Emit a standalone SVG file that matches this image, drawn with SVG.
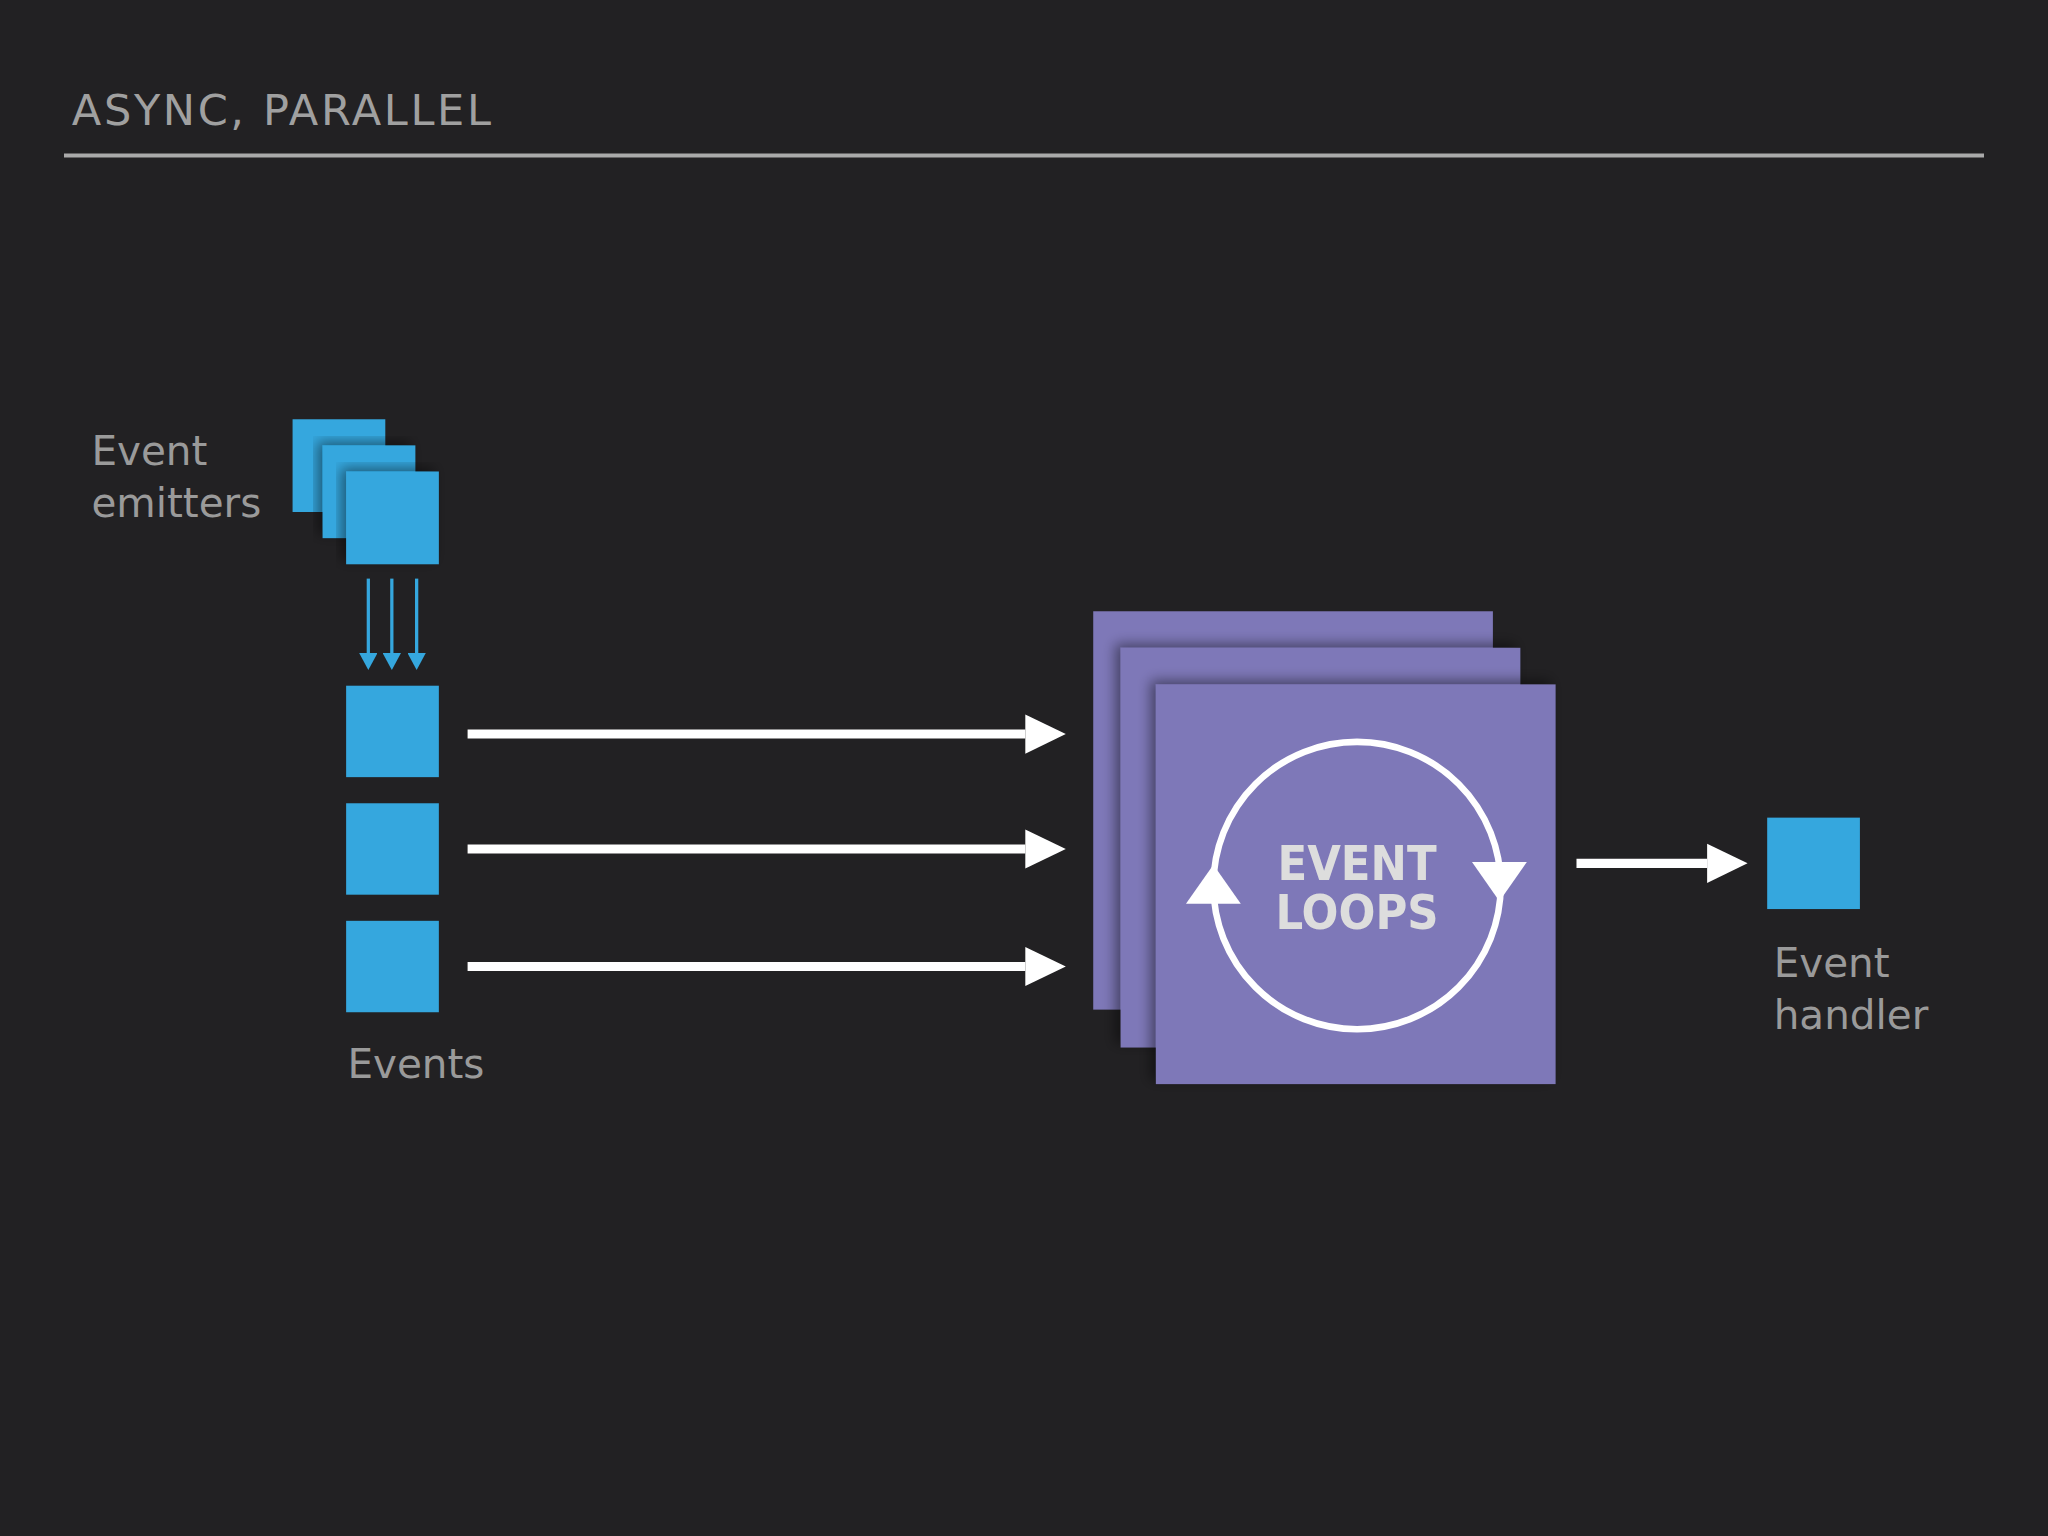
<svg xmlns="http://www.w3.org/2000/svg" width="2048" height="1536" viewBox="0 0 2048 1536">
<style>
.lbl{font-family:"DejaVu Sans","Noto Sans",sans-serif;font-size:31px;fill:#9a9a9a}
.blue{fill:#35a7de}
.purple{fill:#7e78b8}
.wl{stroke:#fff;stroke-width:7;fill:none}
.el{font-family:"DejaVu Sans Condensed","DejaVu Sans",sans-serif;font-weight:bold;font-size:37px;fill:#ddd}
</style>
<defs>
<marker id="wh" markerWidth="32" markerHeight="32" refX="0" refY="16" orient="auto" markerUnits="userSpaceOnUse"><path d="M0,1 L31,16 L0,31 Z" fill="#fff"/></marker>
<marker id="bh" markerWidth="14" markerHeight="14" refX="0" refY="7" orient="auto" markerUnits="userSpaceOnUse"><path d="M0,0 L13,7 L0,14 Z" fill="#35a7de"/></marker>
<filter id="sh" x="-10%" y="-10%" width="130%" height="130%"><feDropShadow dx="-4" dy="-3" stdDeviation="5" flood-color="#000" flood-opacity="0.45"/></filter>
</defs>
<rect width="2048" height="1536" fill="#222123"/>
<g transform="scale(1.30612)">
<text x="55" y="96" font-family="DejaVu Sans,sans-serif" font-size="33" fill="#a0a0a0" letter-spacing="2">ASYNC, PARALLEL</text>
<line x1="49" y1="119" x2="1519" y2="119" stroke="#aaa" stroke-width="3"/>
<g id="emitters">
<rect class="blue" x="224" y="321" width="71" height="71"/>
<rect class="blue" x="247" y="341" width="71" height="71" filter="url(#sh)"/>
<rect class="blue" x="265" y="361" width="71" height="71" filter="url(#sh)"/>
<text class="lbl" x="70" y="356">Event</text>
<text class="lbl" x="70" y="396">emitters</text>
</g>
<g id="events">
<rect class="blue" x="265" y="525" width="71" height="70"/>
<rect class="blue" x="265" y="615" width="71" height="70"/>
<rect class="blue" x="265" y="705" width="71" height="70"/>
<text class="lbl" x="266" y="825">Events</text>
</g>
<g id="loops">
<rect class="purple" x="837" y="468" width="306" height="305"/>
<rect class="purple" x="858" y="496" width="306" height="306" filter="url(#sh)"/>
<rect class="purple" x="885" y="524" width="306" height="306" filter="url(#sh)"/>
<circle cx="1039" cy="678" r="110" stroke="#fff" stroke-width="5" fill="none"/>
<path d="M908,692 L929,662 L950,692 Z" fill="#fff"/>
<path d="M1127,660 L1148,690 L1169,660 Z" fill="#fff"/>
<text class="el" x="1039" y="674" text-anchor="middle">EVENT</text>
<text class="el" x="1039" y="711" text-anchor="middle">LOOPS</text>
</g>
<g id="handler">
<rect class="blue" x="1353" y="626" width="71" height="70"/>
<text class="lbl" x="1358" y="748">Event</text>
<text class="lbl" x="1358" y="788">handler</text>
</g>
<g id="connectors">
<line x1="282" y1="443" x2="282" y2="500" stroke="#35a7de" stroke-width="2.5" marker-end="url(#bh)"/>
<line x1="300" y1="443" x2="300" y2="500" stroke="#35a7de" stroke-width="2.5" marker-end="url(#bh)"/>
<line x1="319" y1="443" x2="319" y2="500" stroke="#35a7de" stroke-width="2.5" marker-end="url(#bh)"/>
<line class="wl" x1="358" y1="562" x2="785" y2="562" marker-end="url(#wh)"/>
<line class="wl" x1="358" y1="650" x2="785" y2="650" marker-end="url(#wh)"/>
<line class="wl" x1="358" y1="740" x2="785" y2="740" marker-end="url(#wh)"/>
<line class="wl" x1="1207" y1="661" x2="1307" y2="661" marker-end="url(#wh)"/>
</g>
</g>
</svg>
